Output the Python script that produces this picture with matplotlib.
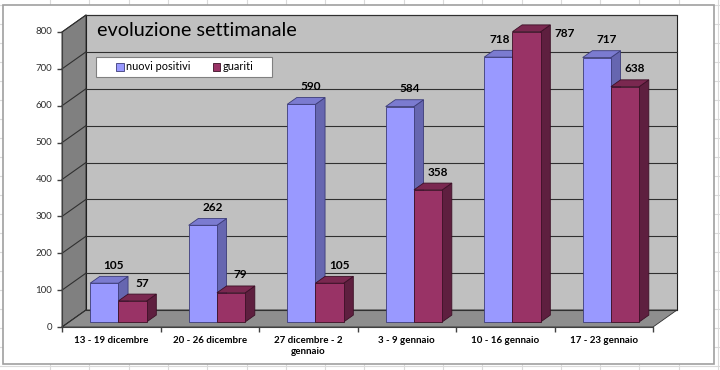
import matplotlib.pyplot as plt
from matplotlib.patches import Polygon, Rectangle, Patch

# dati settimanali
settimane = ['13 - 19 dicembre', '20 - 26 dicembre', '27 dicembre - 2\ngennaio',
             '3 - 9 gennaio', '10 - 16 gennaio', '17 - 23 gennaio']
nuovi_positivi = [105, 262, 590, 584, 718, 717]
guariti = [57, 79, 105, 358, 787, 638]
y_ticks = [0, 100, 200, 300, 400, 500, 600, 700, 800]
serie = ['nuovi positivi', 'guariti']

plt.rcParams['font.family'] = ['Lato', 'DejaVu Sans']

fig = plt.figure(figsize=(7.2, 3.7), dpi=100)
fig.patch.set_facecolor('white')

# background: spreadsheet cells + chart area (pixel coords)
bg = fig.add_axes([0, 0, 1, 1])
bg.set_xlim(0, 720)
bg.set_ylim(370, 0)
bg.axis('off')
x = 50.0
while x < 720:
    bg.plot([x, x], [0, 370], color='#dadada', lw=0.8, zorder=0)
    x += 39.3
y = 5.0
while y < 370:
    bg.plot([0, 720], [y, y], color='#dadada', lw=0.8, zorder=0)
    y += 19
bg.add_patch(Rectangle((3, 5), 711, 359, fc='white', ec='#a0a0a0', lw=1.2, zorder=1))

# chart axes: x = categories, y = values
ax = fig.add_axes([62 / 720, (370 - 327) / 370, 591 / 720, 295 / 370])
ax.set_xlim(0, len(settimane))
ax.set_ylim(0, 800)
ax.axis('off')
ax.patch.set_alpha(0)

n = len(settimane)
ymax = y_ticks[-1]
dx, dy = 0.2437, 46.1          # depth of the 3d box
f0, f1 = 0.3, 0.7              # bar depth inside the box
bw = 0.287                     # bar width
gap = (1 - 2 * bw) / 2

def poly(pts, fc, ec='none', lw=0.0, z=1):
    ax.add_patch(Polygon(pts, closed=True, fc=fc, ec=ec, lw=lw, zorder=z, clip_on=False))

# walls and floor
poly([(dx, dy), (n + dx, dy), (n + dx, ymax + dy), (dx, ymax + dy)], '#c0c0c0', '#202020', 0.8, 1)
poly([(0, 0), (dx, dy), (dx, ymax + dy), (0, ymax)], '#808080', '#202020', 0.6, 1)
poly([(0, 0), (n, 0), (n + dx, dy), (dx, dy)], '#8e8e8e', '#303030', 0.6, 1)
for v in y_ticks:
    ax.plot([dx, n + dx], [v + dy, v + dy], color='#303030', lw=0.8, zorder=2, clip_on=False)
    ax.plot([0, dx], [v, v + dy], color='#303030', lw=0.8, zorder=2, clip_on=False)

# axis lines and ticks
ax.plot([0, 0], [0, ymax], color='#404040', lw=0.8, zorder=3, clip_on=False)
ax.plot([0, n], [0, 0], color='#404040', lw=0.8, zorder=3, clip_on=False)
ax.plot([0] * len(y_ticks), y_ticks, marker=0, ms=3.5, ls='none', color='#404040', clip_on=False)
ax.plot(range(n + 1), [0] * (n + 1), marker=3, ms=3.5, ls='none', color='#404040', clip_on=False)
for v in y_ticks:
    ax.annotate(str(v), (0, v), xytext=(-7, 0), textcoords='offset points',
                ha='right', va='center', fontsize=7, color='#303030', annotation_clip=False)
for i, lbl in enumerate(settimane):
    ax.annotate(lbl, (i + 0.5, 0), xytext=(0, -6.5), textcoords='offset points',
                ha='center', va='top', fontsize=7, fontweight='bold', linespacing=1.25,
                annotation_clip=False)

colori = [('#9999ff', '#6666b0', '#7b7bd0', '#3c3c78'),
          ('#993366', '#5e1f3f', '#7a2850', '#3c1026')]

def bar3d(x0, v, col, z):
    front, side, top, edge = col
    ox, oy = f0 * dx, f0 * dy
    bx, by = (f1 - f0) * dx, (f1 - f0) * dy
    xl, xr = x0 + ox, x0 + ox + bw
    yb, yt = oy, v + oy
    poly([(xr, yb), (xr + bx, yb + by), (xr + bx, yt + by), (xr, yt)], side, edge, 0.6, z)
    poly([(xl, yt), (xr, yt), (xr + bx, yt + by), (xl + bx, yt + by)], top, edge, 0.6, z)
    poly([(xl, yb), (xr, yb), (xr, yt), (xl, yt)], front, edge, 0.6, z)
    return xl, xr, bx, by, oy

z = 4
for i in range(n):
    for s, vals in enumerate([nuovi_positivi, guariti]):
        v = vals[i]
        x0 = i + gap + s * bw
        xl, xr, bx, by, oy = bar3d(x0, v, colori[s], z)
        z += 1
        ly = v + oy + by + 30
        lx = (xl + xr) / 2 + bx
        if ly > ymax + dy - 15:
            ax.text(xr + bx + 0.045, v + 10, str(v), ha='left', va='center',
                    fontsize=8.5, fontweight='bold', zorder=50, clip_on=False)
            continue
        if s == 0 and guariti[i] > v:
            lx -= 0.08
        ax.text(lx, ly, str(v), ha='center', va='center', fontsize=8.5,
                fontweight='bold', zorder=50, clip_on=False)

# overlay: title and legend box (pixel coords)
ov = fig.add_axes([0, 0, 1, 1])
ov.set_xlim(0, 720)
ov.set_ylim(370, 0)
ov.axis('off')
ov.patch.set_alpha(0)
ov.text(97, 31, 'evoluzione settimanale', fontsize=14.3, ha='left', va='center', color='black')
ov.add_patch(Rectangle((96, 57), 176, 20, fc='white', ec='#808080', lw=0.8))

handles = [Patch(fc=colori[0][0], ec=colori[0][3], lw=0.6, label=serie[0]),
           Patch(fc=colori[1][0], ec=colori[1][3], lw=0.6, label=serie[1])]
leg = fig.legend(handles=handles, loc='center', bbox_to_anchor=(185 / 720, 1 - 67 / 370),
                 ncol=2, frameon=False, fontsize=7.8, handlelength=0.7, handleheight=0.7,
                 handletextpad=0.25, columnspacing=2.0, borderpad=0.2)
leg.set_zorder(20)

fig.savefig('out.png', dpi=100)
